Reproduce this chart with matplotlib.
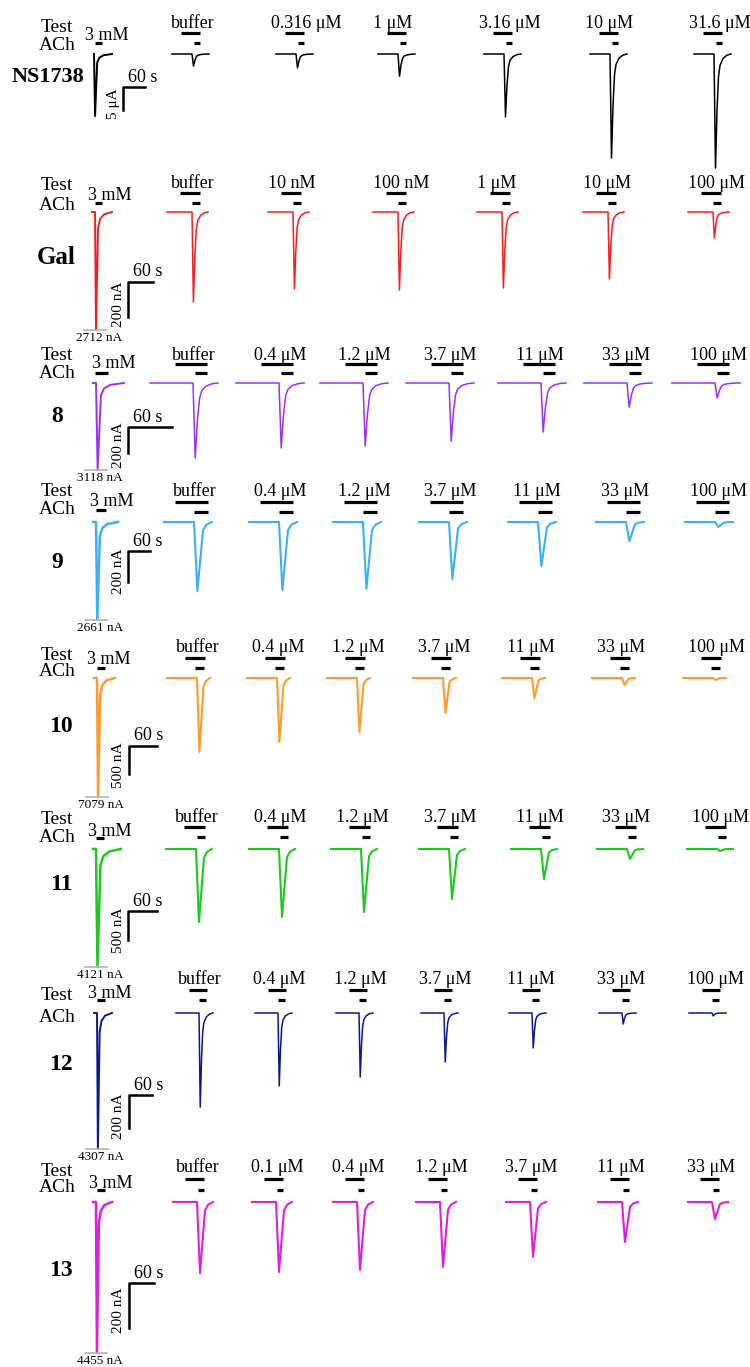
import matplotlib
matplotlib.use("Agg")
import matplotlib.pyplot as plt

plt.rcParams['font.family'] = ['Liberation Serif', 'DejaVu Serif']

# ---------------- values ----------------
compounds = ["NS1738", "Gal", "8", "9", "10", "11", "12", "13"]
colors = ["black", "#ff1a1a", "#9b30f5", "#3cb0f5", "#ff9a2e", "#1ec81e", "#0c1890", "#e01ee0"]

ns1738_conc = ["buffer", "0.316 μM", "1 μM", "3.16 μM", "10 μM", "31.6 μM"]
gal_conc = ["buffer", "10 nM", "100 nM", "1 μM", "10 μM", "100 μM"]
std_conc = ["buffer", "0.4 μM", "1.2 μM", "3.7 μM", "11 μM", "33 μM", "100 μM"]
c13_conc = ["buffer", "0.1 μM", "0.4 μM", "1.2 μM", "3.7 μM", "11 μM", "33 μM"]

# peak current of each test response (nA)
ns1738_peak = [2600, 3000, 4800, 13700, 22600, 24800]
gal_peak = [514, 440, 446, 434, 383, 149]
c8_peak = [577, 500, 485, 446, 377, 185, 115]
c9_peak = [445, 439, 432, 368, 284, 123, 32]
c10_peak = [1321, 1143, 964, 625, 357, 125, 36]
c11_peak = [1259, 1172, 1086, 862, 517, 172, 34]
c12_peak = [570, 442, 388, 297, 212, 67, 18]
c13_peak = [316, 311, 302, 289, 244, 178, 76]

# 3 mM ACh control response (nA) and whether the trace is cut off in the figure
ach_peak = [13500, 2712, 3118, 2661, 7079, 4121, 4307, 4455]
ach_cut = [False, True, True, True, True, True, True, True]

# scale bars
scale_nA = [5000, 200, 200, 200, 500, 500, 200, 200]
scale_text = ["5 μA", "200 nA", "200 nA", "200 nA", "500 nA", "500 nA", "200 nA", "200 nA"]

conc_rows = [ns1738_conc, gal_conc, std_conc, std_conc, std_conc, std_conc, std_conc, c13_conc]
peak_rows = [ns1738_peak, gal_peak, c8_peak, c9_peak, c10_peak, c11_peak, c12_peak, c13_peak]

# normalised response shapes (x in px after the jump, y as fraction of peak)
sharp_dx = [0, 1.5, 3, 4.5, 6, 9, 13, 17]
sharp_dy = [0, 1, 0.5, 0.2, 0.1, 0.04, 0.01, 0]
wide_dx = [0, 3, 8, 11, 16]
wide_dy = [0, 1, 0.12, 0.04, 0]
ctrl_dx = [-3, 0, 1, 3, 5, 9, 17]
ctrl_dy = [0, 0, 1, 0.14, 0.06, 0.02, 0]

# ---------------- layout (pixels of the 750 x 1367 page) ----------------
rows = [
    dict(base=54, drops=[192, 296, 398, 504, 610, 714], shape="sharp", pre=20, post=17,
         lbar=(-11, 8), sbar=(2, 8), lab_y=24, lbar_y=33, sbar_y=43,
         test_y=28, ach_y=45, mm=(85, 36), mmbar=(95, 102, 43),
         ctrl_x=94, ctrl_post=18, ctrl_px=None, scale_px=23,
         sbx=123, sby=87, sbw=22, name_xy=(48, 77), name_size=16),
    dict(base=212, drops=[192, 293, 398, 502, 608, 713], shape="sharp", pre=25, post=16,
         lbar=(-12, 8), sbar=(0, 8), lab_y=184, lbar_y=193, sbar_y=203,
         test_y=186, ach_y=205, mm=(88, 195), mmbar=(95, 102, 203),
         ctrl_x=95, ctrl_post=17, ctrl_px=118, scale_px=35,
         sbx=128, sby=282, sbw=25, name_xy=(56, 258), name_size=18),
    dict(base=383, drops=[193, 279, 363, 449, 541, 627, 715], shape="sharp", pre=43, post=25,
         lbar=(-18, 14), sbar=(2, 14), lab_y=355, lbar_y=364, sbar_y=373,
         test_y=356, ach_y=373, mm=(92, 364), mmbar=(95, 108, 373),
         ctrl_x=96, ctrl_post=28, ctrl_px=87, scale_px=26,
         sbx=128, sby=427, sbw=44, name_xy=(57, 416), name_size=17),
    dict(base=522, drops=[194, 279, 363, 449, 538, 626, 715], shape="wide", pre=30, post=18,
         lbar=(-19, 14), sbar=(0, 14), lab_y=492, lbar_y=502, sbar_y=512,
         test_y=492, ach_y=510, mm=(90, 501), mmbar=(96, 106, 510),
         ctrl_x=96, ctrl_post=22, ctrl_px=98, scale_px=31,
         sbx=128, sby=551, sbw=22, name_xy=(57, 562), name_size=17),
    dict(base=678, drops=[197, 277, 357, 443, 532, 622, 713], shape="wide", pre=30, post=13,
         lbar=(-12, 8), sbar=(-2, 7), lab_y=647, lbar_y=658, sbar_y=668,
         test_y=655, ach_y=672, mm=(87, 660), mmbar=(97, 105, 668),
         ctrl_x=97, ctrl_post=18, ctrl_px=119, scale_px=28,
         sbx=129, sby=746, sbw=28, name_xy=(61, 726), name_size=17),
    dict(base=849, drops=[196, 279, 361, 449, 541, 627, 717], shape="wide", pre=30, post=16,
         lbar=(-12, 9), sbar=(1, 9), lab_y=817, lbar_y=827, sbar_y=837,
         test_y=820, ach_y=838, mm=(88, 831), mmbar=(96, 104, 838),
         ctrl_x=96, ctrl_post=25, ctrl_px=118, scale_px=29,
         sbx=128, sby=911, sbw=29, name_xy=(61, 885), name_size=17),
    dict(base=1013, drops=[199, 278, 359, 444, 532, 622, 712], shape="sharp", pre=23, post=14,
         lbar=(-10, 8), sbar=(0, 7), lab_y=980, lbar_y=990, sbar_y=1000,
         test_y=995, ach_y=1018, mm=(88, 993), mmbar=(97, 105, 1000),
         ctrl_x=97, ctrl_post=15, ctrl_px=136, scale_px=33,
         sbx=129, sby=1095, sbw=23, name_xy=(61, 1064), name_size=17),
    dict(base=1202, drops=[197, 276, 357, 440, 530, 622, 712], shape="wide", pre=24, post=16,
         lbar=(-12, 7), sbar=(1, 7), lab_y=1167, lbar_y=1179, sbar_y=1190,
         test_y=1172, ach_y=1188, mm=(89, 1183), mmbar=(97, 105, 1190),
         ctrl_x=96, ctrl_post=16, ctrl_px=151, scale_px=45,
         sbx=129, sby=1283, sbw=25, name_xy=(61, 1270), name_size=17),
]

fig = plt.figure(figsize=(7.5, 13.67), dpi=100)
ax = fig.add_axes([0, 0, 1, 1])
ax.set_xlim(0, 750)
ax.set_ylim(1367, 0)
ax.axis("off")


def response(x0, base, depth, pre, post, dx, dy):
    xs = [x0 - pre] + [x0 + d * post / dx[-1] for d in dx]
    ys = [base] + [base + f * depth for f in dy]
    return xs, ys


for i, r in enumerate(rows):
    col = colors[i]
    px_per_nA = r["scale_px"] / scale_nA[i]
    dx, dy = (sharp_dx, sharp_dy) if r["shape"] == "sharp" else (wide_dx, wide_dy)
    lw = 1.1 if r["shape"] == "sharp" else 1.5

    # labels on the left
    ax.text(r["name_xy"][0], r["name_xy"][1], compounds[i], fontsize=r["name_size"],
            fontweight="bold", ha="center", va="center")
    ax.text(57, r["test_y"], "Test", fontsize=14, ha="center", va="center")
    ax.text(57, r["ach_y"], "ACh", fontsize=14, ha="center", va="center")
    ax.text(r["mm"][0], r["mm"][1], "3 mM", fontsize=13, ha="left", va="center")
    ax.plot(r["mmbar"][:2], [r["mmbar"][2]] * 2, color="black", lw=2.3, solid_capstyle="butt")

    # 3 mM ACh control
    depth = ach_peak[i] * px_per_nA
    if r["ctrl_px"] is not None:
        depth = r["ctrl_px"]
    cx = [r["ctrl_x"] + d * r["ctrl_post"] / ctrl_dx[-1] if d > 0 else r["ctrl_x"] + d for d in ctrl_dx]
    cy = [r["base"] + f * depth for f in ctrl_dy]
    if i == 0:
        cx, cy = cx[1:], cy[1:]
    ax.plot(cx, cy, color=col, lw=lw + 0.3)
    if ach_cut[i]:
        yb = r["base"] + depth
        ax.plot([r["ctrl_x"] - 11, r["ctrl_x"] + 11], [yb, yb], color="#b4b4b4", lw=1.2)
        ax.text(r["ctrl_x"] + 4, yb + 8, f"{ach_peak[i]} nA", fontsize=9.5, ha="center", va="center")

    # scale bar
    ax.plot([r["sbx"] + r["sbw"], r["sbx"], r["sbx"]],
            [r["sby"], r["sby"], r["sby"] + r["scale_px"]], color="black", lw=1.8)
    ax.text(r["sbx"] + 20, r["sby"] - 10, "60 s", fontsize=13, ha="center", va="center")
    ax.text(r["sbx"] - 10, r["sby"] + r["scale_px"] / 2 + 5, scale_text[i], fontsize=11,
            rotation=90, ha="center", va="center")

    # test responses
    for x0, lab, pk in zip(r["drops"], conc_rows[i], peak_rows[i]):
        xs, ys = response(x0, r["base"], pk * px_per_nA, r["pre"], r["post"], dx, dy)
        ax.plot(xs, ys, color=col, lw=lw)
        ax.plot([x0 + r["lbar"][0], x0 + r["lbar"][1]], [r["lbar_y"]] * 2, color="black",
                lw=2.3, solid_capstyle="butt")
        ax.plot([x0 + r["sbar"][0], x0 + r["sbar"][1]], [r["sbar_y"]] * 2, color="black",
                lw=2.3, solid_capstyle="butt")
        if lab == "buffer":
            ax.text(x0 + 1, r["lab_y"], lab, fontsize=13, ha="center", va="center")
        else:
            ax.text(x0 - 25, r["lab_y"], lab, fontsize=13, ha="left", va="center")

fig.savefig("out.png", dpi=100)
